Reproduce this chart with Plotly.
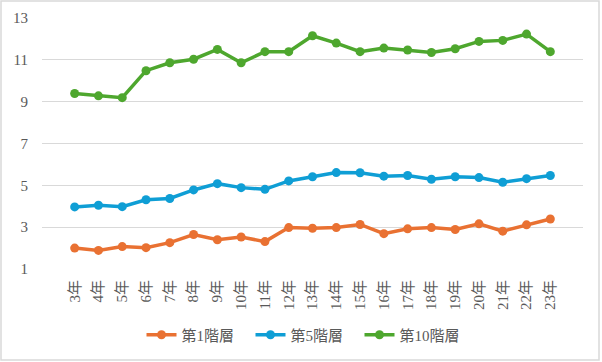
import plotly.graph_objects as go

categories = [f"{i}年" for i in range(3, 24)]
tier1 = [2.00, 1.89, 2.07, 2.02, 2.26, 2.65, 2.40, 2.53, 2.31, 2.98, 2.95,
         2.98, 3.13, 2.69, 2.92, 2.98, 2.89, 3.16, 2.81, 3.11, 3.39]
tier5 = [3.97, 4.05, 3.98, 4.31, 4.37, 4.78, 5.08, 4.89, 4.81, 5.21, 5.41,
         5.61, 5.60, 5.44, 5.47, 5.29, 5.41, 5.37, 5.15, 5.32, 5.47]
tier10 = [9.39, 9.28, 9.19, 10.48, 10.86, 11.03, 11.50, 10.86, 11.39, 11.39, 12.15,
          11.80, 11.39, 11.56, 11.47, 11.35, 11.53, 11.88, 11.93, 12.23, 11.39]
series_names = ["第1階層", "第5階層", "第10階層"]
colors = ["#E97132", "#0F9ED5", "#4EA72E"]
y_ticks = [1, 3, 5, 7, 9, 11, 13]

FONT = "Liberation Serif, Noto Sans CJK JP, serif"
TXT = "#595959"

fig = go.Figure()
for name, vals, col in zip(series_names, [tier1, tier5, tier10], colors):
    fig.add_trace(go.Scatter(
        x=categories, y=vals, name=name, mode="lines+markers",
        line=dict(color=col, width=3.5),
        marker=dict(color=col, size=9),
    ))

W, H = 602, 362
ml, mr, mt, mb = 42, 19, 18, 93
pw, ph = W - ml - mr, H - mt - mb

def px_x(p):
    return (p - ml) / pw

def px_y(p):
    return (H - mb - p) / ph

fig.update_layout(
    width=W, height=H,
    margin=dict(l=ml, r=mr, t=mt, b=mb, autoexpand=False),
    paper_bgcolor="white", plot_bgcolor="white",
    font=dict(family=FONT, size=15, color=TXT),
    showlegend=True,
    legend=dict(orientation="h", x=px_x(305), xanchor="center", y=px_y(335), yanchor="middle",
                font=dict(family=FONT, size=15, color=TXT),
                entrywidth=64, entrywidthmode="pixels", itemwidth=30),
    xaxis=dict(type="category", tickangle=-90, showgrid=False, showline=False,
               automargin=False,
               ticks="", ticklabelstandoff=7, tickfont=dict(family=FONT, size=15, color=TXT)),
    yaxis=dict(range=[1, 13], tickvals=y_ticks, showgrid=True, gridcolor="#d9d9d9",
               automargin=False,
               gridwidth=1, zeroline=False, showline=False, ticks="",
               ticklabelstandoff=13, tickfont=dict(family=FONT, size=15, color=TXT)),
    shapes=[dict(type="rect", xref="paper", yref="paper",
                 x0=px_x(1), x1=px_x(599), y0=px_y(360), y1=px_y(1),
                 line=dict(color="#d9d9d9", width=1.5), layer="below")],
)

fig.write_html("out.html", config={"displayModeBar": False},
               post_script="document.body.style.margin='0';document.body.style.overflow='hidden';")
